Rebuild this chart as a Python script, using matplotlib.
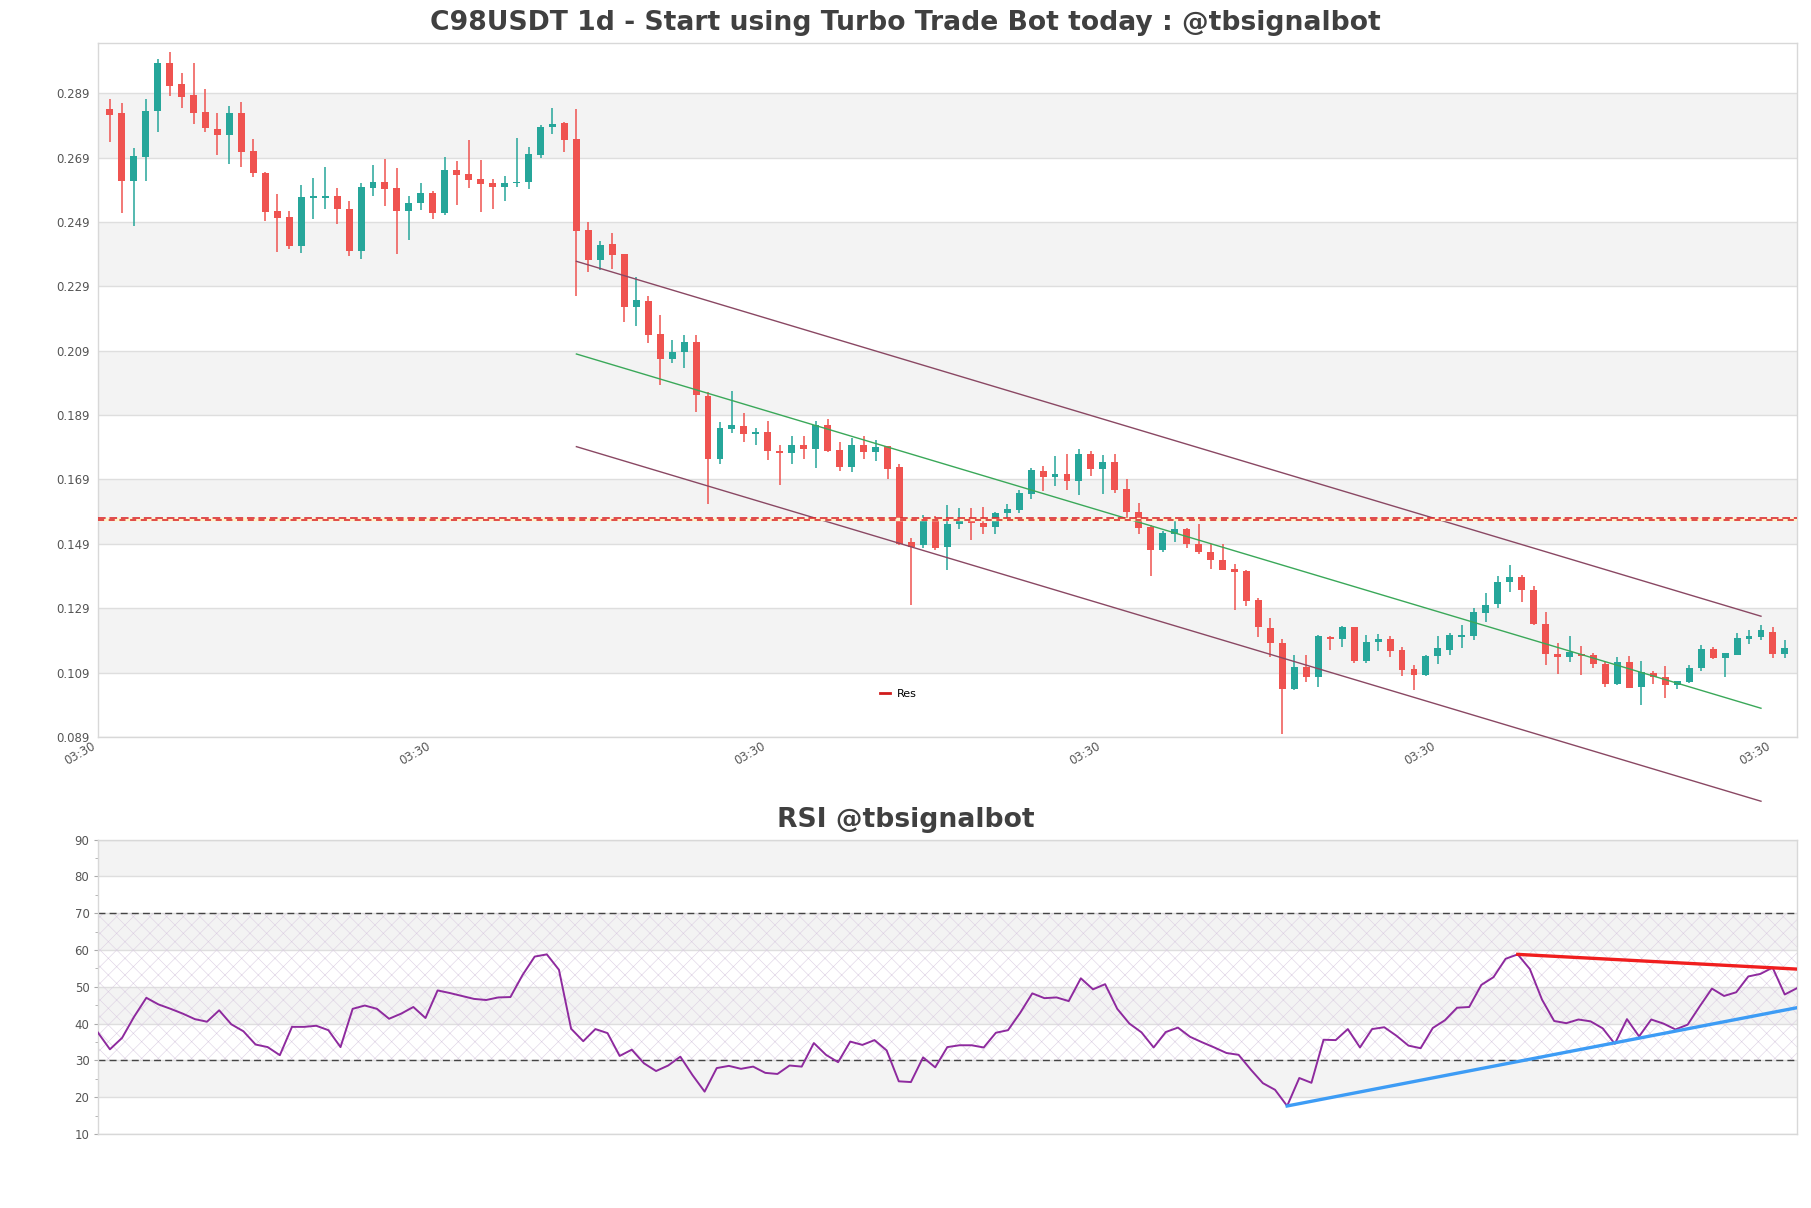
"""
C98USDT daily candles with regression channel, resistance level and RSI panel.
Writes out.png (1811x1208).
"""

import matplotlib
matplotlib.use("Agg")
import matplotlib.pyplot as plt
from matplotlib.lines import Line2D
from matplotlib.ticker import MultipleLocator

TITLE = "C98USDT 1d - Start using Turbo Trade Bot today : @tbsignalbot"
RSI_TITLE = "RSI @tbsignalbot"

opens = [
    0.2840, 0.2828, 0.2617, 0.2692, 0.2835, 0.2983, 0.2918, 0.2884, 0.2831, 0.2780,
    0.2760, 0.2830, 0.2710, 0.2644, 0.2523, 0.2505, 0.2415, 0.2566, 0.2565, 0.2570,
    0.2532, 0.2400, 0.2596, 0.2616, 0.2595, 0.2524, 0.2549, 0.2579, 0.2518, 0.2651,
    0.2638, 0.2623, 0.2610, 0.2599, 0.2611, 0.2614, 0.2699, 0.2785, 0.2798, 0.2748,
    0.2465, 0.2372, 0.2423, 0.2390, 0.2226, 0.2246, 0.2141, 0.2064, 0.2085, 0.2117,
    0.1950, 0.1755, 0.1846, 0.1857, 0.1830, 0.1839, 0.1779, 0.1771, 0.1798, 0.1784,
    0.1860, 0.1782, 0.1728, 0.1798, 0.1776, 0.1794, 0.1730, 0.1495, 0.1487, 0.1564,
    0.1479, 0.1553, 0.1563, 0.1556, 0.1542, 0.1586, 0.1595, 0.1646, 0.1716, 0.1698,
    0.1707, 0.1686, 0.1769, 0.1722, 0.1745, 0.1660, 0.1590, 0.1542, 0.1470, 0.1522,
    0.1535, 0.1490, 0.1466, 0.1441, 0.1413, 0.1404, 0.1316, 0.1228, 0.1181, 0.1038,
    0.1106, 0.1075, 0.1200, 0.1194, 0.1231, 0.1127, 0.1185, 0.1194, 0.1160, 0.1101,
    0.1083, 0.1140, 0.1161, 0.1201, 0.1204, 0.1275, 0.1303, 0.1372, 0.1387, 0.1348,
    0.1242, 0.1149, 0.1139, 0.1149, 0.1144, 0.1116, 0.1053, 0.1122, 0.1046, 0.1088,
    0.1075, 0.1050, 0.1062, 0.1103, 0.1163, 0.1135, 0.1145, 0.1194, 0.1201, 0.1217,
    0.1147,
]
highs = [
    0.2874, 0.2859, 0.2719, 0.2873, 0.2998, 0.3017, 0.2954, 0.2985, 0.2902, 0.2828,
    0.2850, 0.2863, 0.2747, 0.2646, 0.2576, 0.2523, 0.2604, 0.2626, 0.2660, 0.2595,
    0.2557, 0.2612, 0.2666, 0.2685, 0.2657, 0.2570, 0.2612, 0.2587, 0.2691, 0.2679,
    0.2744, 0.2682, 0.2625, 0.2632, 0.2752, 0.2724, 0.2791, 0.2845, 0.2800, 0.2841,
    0.2489, 0.2431, 0.2455, 0.2392, 0.2320, 0.2261, 0.2202, 0.2124, 0.2138, 0.2138,
    0.1962, 0.1870, 0.1966, 0.1896, 0.1851, 0.1873, 0.1798, 0.1825, 0.1825, 0.1873,
    0.1878, 0.1808, 0.1819, 0.1825, 0.1812, 0.1794, 0.1739, 0.1508, 0.1580, 0.1578,
    0.1612, 0.1601, 0.1601, 0.1606, 0.1589, 0.1613, 0.1657, 0.1727, 0.1731, 0.1764,
    0.1769, 0.1785, 0.1777, 0.1766, 0.1769, 0.1693, 0.1618, 0.1547, 0.1530, 0.1568,
    0.1540, 0.1551, 0.1491, 0.1488, 0.1428, 0.1408, 0.1322, 0.1259, 0.1194, 0.1145,
    0.1145, 0.1207, 0.1202, 0.1235, 0.1233, 0.1207, 0.1209, 0.1204, 0.1168, 0.1113,
    0.1144, 0.1202, 0.1214, 0.1239, 0.1291, 0.1338, 0.1391, 0.1425, 0.1394, 0.1360,
    0.1279, 0.1183, 0.1205, 0.1171, 0.1152, 0.1122, 0.1137, 0.1142, 0.1125, 0.1096,
    0.1111, 0.1065, 0.1114, 0.1175, 0.1168, 0.1152, 0.1214, 0.1221, 0.1238, 0.1230,
    0.1191,
]
lows = [
    0.2739, 0.2518, 0.2478, 0.2617, 0.2770, 0.2882, 0.2844, 0.2794, 0.2770, 0.2698,
    0.2670, 0.2661, 0.2631, 0.2493, 0.2397, 0.2406, 0.2394, 0.2498, 0.2532, 0.2484,
    0.2384, 0.2374, 0.2570, 0.2540, 0.2391, 0.2434, 0.2527, 0.2498, 0.2513, 0.2543,
    0.2595, 0.2520, 0.2532, 0.2557, 0.2599, 0.2592, 0.2690, 0.2763, 0.2707, 0.2261,
    0.2336, 0.2342, 0.2343, 0.2179, 0.2166, 0.2113, 0.1985, 0.2053, 0.2036, 0.1899,
    0.1615, 0.1737, 0.1835, 0.1805, 0.1798, 0.1752, 0.1674, 0.1737, 0.1753, 0.1725,
    0.1774, 0.1717, 0.1712, 0.1753, 0.1746, 0.1693, 0.1487, 0.1299, 0.1476, 0.1470,
    0.1410, 0.1537, 0.1502, 0.1522, 0.1519, 0.1566, 0.1587, 0.1629, 0.1655, 0.1670,
    0.1657, 0.1642, 0.1701, 0.1644, 0.1647, 0.1571, 0.1519, 0.1389, 0.1465, 0.1495,
    0.1478, 0.1457, 0.1413, 0.1408, 0.1283, 0.1296, 0.1200, 0.1138, 0.0898, 0.1036,
    0.1060, 0.1044, 0.1160, 0.1168, 0.1121, 0.1121, 0.1158, 0.1139, 0.1078, 0.1037,
    0.1078, 0.1116, 0.1144, 0.1166, 0.1192, 0.1247, 0.1291, 0.1341, 0.1310, 0.1238,
    0.1114, 0.1086, 0.1124, 0.1083, 0.1103, 0.1046, 0.1050, 0.1042, 0.0988, 0.1053,
    0.1010, 0.1039, 0.1057, 0.1096, 0.1132, 0.1075, 0.1145, 0.1178, 0.1192, 0.1135,
    0.1135,
]
closes = [
    0.2823, 0.2617, 0.2694, 0.2834, 0.2983, 0.2913, 0.2879, 0.2829, 0.2782, 0.2760,
    0.2830, 0.2708, 0.2642, 0.2521, 0.2502, 0.2415, 0.2567, 0.2567, 0.2571, 0.2530,
    0.2400, 0.2598, 0.2616, 0.2593, 0.2524, 0.2550, 0.2581, 0.2518, 0.2651, 0.2636,
    0.2621, 0.2607, 0.2599, 0.2612, 0.2616, 0.2700, 0.2786, 0.2794, 0.2746, 0.2463,
    0.2372, 0.2420, 0.2388, 0.2227, 0.2248, 0.2139, 0.2064, 0.2087, 0.2117, 0.1952,
    0.1755, 0.1851, 0.1860, 0.1830, 0.1839, 0.1779, 0.1771, 0.1798, 0.1784, 0.1860,
    0.1779, 0.1728, 0.1798, 0.1776, 0.1791, 0.1723, 0.1489, 0.1481, 0.1564, 0.1478,
    0.1552, 0.1563, 0.1555, 0.1542, 0.1587, 0.1597, 0.1647, 0.1719, 0.1698, 0.1707,
    0.1686, 0.1769, 0.1722, 0.1745, 0.1657, 0.1589, 0.1538, 0.1470, 0.1524, 0.1535,
    0.1488, 0.1464, 0.1439, 0.1410, 0.1402, 0.1313, 0.1230, 0.1181, 0.1038, 0.1106,
    0.1075, 0.1202, 0.1195, 0.1231, 0.1127, 0.1186, 0.1194, 0.1158, 0.1099, 0.1083,
    0.1142, 0.1166, 0.1206, 0.1204, 0.1279, 0.1301, 0.1372, 0.1387, 0.1346, 0.1240,
    0.1147, 0.1139, 0.1154, 0.1142, 0.1116, 0.1053, 0.1122, 0.1042, 0.1091, 0.1075,
    0.1050, 0.1063, 0.1103, 0.1163, 0.1135, 0.1150, 0.1197, 0.1202, 0.1221, 0.1147,
    0.1166,
]

rsi = [
    37.6, 33.0, 36.1, 41.9, 47.0, 45.2, 44.0, 42.7, 41.2, 40.5,
    43.6, 39.8, 37.9, 34.3, 33.6, 31.4, 39.1, 39.1, 39.4, 38.2,
    33.6, 44.0, 44.9, 44.0, 41.3, 42.7, 44.5, 41.5, 49.0, 48.3,
    47.5, 46.7, 46.4, 47.1, 47.2, 53.2, 58.2, 58.8, 54.6, 38.6,
    35.2, 38.5, 37.4, 31.2, 32.9, 29.2, 27.1, 28.6, 31.0, 26.0,
    21.5, 27.9, 28.5, 27.7, 28.3, 26.6, 26.3, 28.6, 28.3, 34.7,
    31.5, 29.5, 35.1, 34.2, 35.5, 32.7, 24.3, 24.1, 30.8, 28.1,
    33.6, 34.1, 34.1, 33.5, 37.5, 38.2, 42.9, 48.2, 46.9, 47.1,
    46.1, 52.3, 49.3, 50.7, 44.0, 40.0, 37.6, 33.5, 37.7, 38.9,
    36.4, 34.9, 33.5, 32.0, 31.5, 27.5, 23.8, 22.0, 17.6, 25.2,
    23.9, 35.6, 35.5, 38.5, 33.5, 38.5, 39.0, 36.7, 34.0, 33.3,
    38.8, 40.9, 44.3, 44.5, 50.5, 52.6, 57.6, 58.8, 54.8, 46.5,
    40.7, 40.1, 41.1, 40.6, 38.7, 34.5, 41.2, 36.5, 41.1, 40.0,
    38.4, 39.7, 44.7, 49.5, 47.5, 48.5, 52.8, 53.5, 55.2, 47.9,
    49.6,
]

price_ticks = [0.089, 0.109, 0.129, 0.149, 0.169, 0.189, 0.209, 0.229, 0.249, 0.269, 0.289]
time_labels = ["03:30", "03:30", "03:30", "03:30", "03:30", "03:30"]
rsi_ticks = [10, 20, 30, 40, 50, 60, 70, 80, 90]

res_level = 0.1566

# regression channel (bar index, price)
channel_x = [39, 138]
channel_upper = [0.2368, 0.1265]
channel_mid = [0.2080, 0.0979]
channel_lower = [0.1792, 0.0690]

# rsi trend lines (bar index, rsi)
rsi_res_x = [117, 140]
rsi_res_y = [58.8, 54.8]
rsi_sup_x = [98, 140]
rsi_sup_y = [17.6, 44.3]

UP = "#26a69a"
DOWN = "#ef5350"
BAND = "#f3f3f3"
GRID = "#dedede"
SPINE = "#d8d8d8"
TEXT = "#404040"


def style_axes(ax):
    for s in ax.spines.values():
        s.set_color(SPINE)
        s.set_linewidth(1)
    ax.set_facecolor("white")


def main():
    plt.rcParams["hatch.linewidth"] = 0.4
    fig = plt.figure(figsize=(18.11, 12.08), dpi=100)

    # ---- price panel ----
    ax = fig.add_axes([0.0540, 0.3900, 0.9382, 0.5740])
    style_axes(ax)
    # shade every other band, starting with 0.109-0.129
    for i, (lo, hi) in enumerate(zip(price_ticks[:-1], price_ticks[1:])):
        if i % 2 == 1:
            ax.axhspan(lo, hi, color=BAND, lw=0, zorder=0)
    for t in price_ticks:
        ax.axhline(t, color=GRID, lw=1, zorder=0.5)

    n = len(closes)
    xs = list(range(n))
    colors = [UP if c >= o else DOWN for o, c in zip(opens, closes)]
    bottoms = [min(o, c) for o, c in zip(opens, closes)]
    heights = [max(abs(c - o), 0.0005) for o, c in zip(opens, closes)]
    ax.vlines(xs, lows, highs, colors=colors, lw=1.1, zorder=2)
    ax.bar(xs, heights, bottom=bottoms, width=0.58, color=colors, lw=0, zorder=3)

    ax.plot(channel_x, channel_upper, color="#8a4863", lw=1, zorder=4, clip_on=False)
    ax.plot(channel_x, channel_mid, color="#3aa859", lw=1, zorder=4, clip_on=False)
    ax.plot(channel_x, channel_lower, color="#8a4863", lw=1, zorder=4, clip_on=False)

    ax.axhline(res_level, color="#fff3c8", lw=2.5, zorder=4)
    ax.axhline(res_level + 0.0003, color="#d91c24", lw=1.1, dashes=(5, 2.5), zorder=5)
    ax.axhline(res_level - 0.0003, color="#d91c24", lw=1.1, dashes=(4, 3), zorder=5)

    ax.legend(handles=[Line2D([], [], color="#d01c1c", lw=2)], labels=["Res"],
              loc="center", bbox_to_anchor=(0.471, 0.062), frameon=False,
              fontsize=8, handlelength=0.9, handletextpad=0.6)

    ax.set_xlim(-1, 141)
    ax.set_ylim(0.089, 0.3045)
    ax.set_yticks(price_ticks)
    ax.set_yticklabels([f"{t:.3f}" for t in price_ticks])
    ax.set_xticks([-1, 27, 55, 83, 111, 139])
    ax.set_xticklabels(time_labels, rotation=30, ha="right")
    ax.tick_params(axis="both", length=0, labelsize=8.5, colors="#555555", pad=6)
    ax.tick_params(axis="x", pad=2)

    fig.text(0.5, 1 - 23 / 1208, TITLE, ha="center", va="center",
             fontsize=19.2, fontweight="bold", color=TEXT)

    # ---- rsi panel ----
    rx = fig.add_axes([0.0540, 0.0613, 0.9382, 0.2437])
    style_axes(rx)
    for lo in (20, 40, 60, 80):
        rx.axhspan(lo, lo + 10, color=BAND, lw=0, zorder=0)
    for t in rsi_ticks:
        rx.axhline(t, color=GRID, lw=1, zorder=0.5)
    rx.axhspan(30, 70, facecolor="none", edgecolor="#dccfe3", hatch="xx", lw=0, zorder=1)
    rx.axhline(70, color="#444444", lw=1, dashes=(5, 3), zorder=2)
    rx.axhline(30, color="#444444", lw=1, dashes=(5, 3), zorder=2)

    rx.plot(range(len(rsi)), rsi, color="#8e2a9e", lw=1.4, zorder=3)
    rx.plot(rsi_res_x, rsi_res_y, color="#f01e1e", lw=2.4, zorder=4)
    rx.plot(rsi_sup_x, rsi_sup_y, color="#3d9cf5", lw=2.4, zorder=4)

    rx.set_xlim(0, len(rsi) - 1)
    rx.set_ylim(10, 90)
    rx.set_yticks(rsi_ticks)
    rx.yaxis.set_minor_locator(MultipleLocator(5))
    rx.set_xticks([])
    rx.tick_params(axis="y", which="major", length=3, color="#aaaaaa",
                   labelsize=8.5, labelcolor="#555555", pad=3)
    rx.tick_params(axis="y", which="minor", length=2, color="#aaaaaa")

    fig.text(0.5, 1 - 820 / 1208, RSI_TITLE, ha="center", va="center",
             fontsize=19.2, fontweight="bold", color=TEXT)

    fig.savefig("out.png", dpi=100)


if __name__ == "__main__":
    main()
